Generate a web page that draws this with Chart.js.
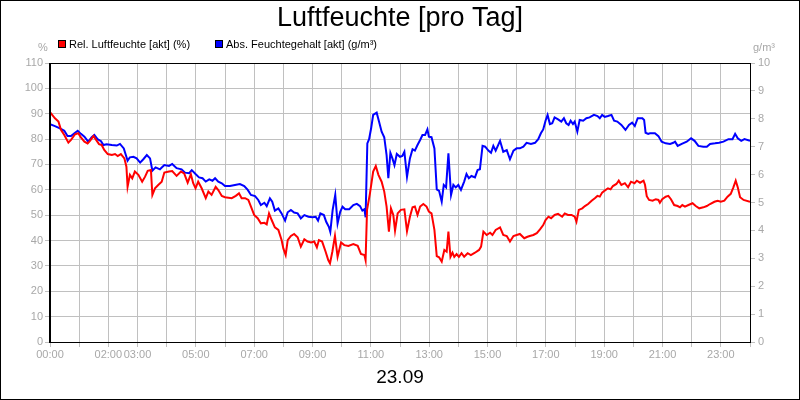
<!DOCTYPE html>
<html>
<head>
<meta charset="utf-8">
<script src="https://cdn.jsdelivr.net/npm/chart.js@4"></script>
<style>
  html, body { margin: 0; padding: 0; background: #fff; }
  #wrap { width: 800px; height: 400px; }
</style>
</head>
<body>
<div id="wrap"><canvas id="chart" width="800" height="400"></canvas></div>
<script>
// Stunden (dezimal) und Werte
const relHours = [
  0.00, 0.17, 0.29, 0.38, 0.49, 0.63, 0.72, 0.86, 0.97, 1.06, 1.18, 1.29, 1.37, 1.49, 1.57, 1.68, 1.77, 1.86, 1.98,
  2.12, 2.23, 2.32, 2.43, 2.55, 2.62, 2.66, 2.74, 2.82, 2.91, 3.03, 3.16, 3.26, 3.35, 3.46, 3.51, 3.60, 3.71, 3.83, 3.92,
  4.08, 4.19, 4.34, 4.49, 4.60, 4.72, 4.83, 4.91, 4.99, 5.08, 5.20, 5.34, 5.43, 5.54, 5.68, 5.77, 5.89, 6.00,
  6.23, 6.37, 6.48, 6.57, 6.69, 6.80, 6.89, 7.00, 7.12, 7.23, 7.35, 7.43, 7.51, 7.60, 7.71, 7.83, 7.94, 8.00, 8.08,
  8.15, 8.26, 8.37, 8.49, 8.60, 8.72, 8.83, 8.95, 9.06, 9.15, 9.22, 9.33, 9.45, 9.54, 9.60, 9.68, 9.77, 9.86, 9.98,
  10.09, 10.23, 10.40, 10.55, 10.66, 10.78, 10.82, 10.87, 10.97, 11.08, 11.17, 11.26, 11.37, 11.46, 11.54, 11.62,
  11.69, 11.77, 11.83, 11.92, 12.03, 12.15, 12.24, 12.34, 12.43, 12.51, 12.60, 12.69, 12.80, 12.91, 12.99, 13.08,
  13.18, 13.26, 13.34, 13.43, 13.52, 13.60, 13.66, 13.73, 13.80, 13.86, 13.94, 14.02, 14.11, 14.20, 14.32, 14.43,
  14.57, 14.71, 14.78, 14.86, 14.97, 15.09, 15.17, 15.28, 15.43, 15.54, 15.66, 15.77, 15.89, 16.00, 16.11, 16.26,
  16.37, 16.45, 16.57, 16.69, 16.80, 16.91, 16.99, 17.09, 17.18, 17.30, 17.42, 17.56, 17.65, 17.76, 17.88, 17.99,
  18.05, 18.13, 18.25, 18.34, 18.45, 18.57, 18.68, 18.77, 18.85, 18.93, 19.02, 19.13, 19.22, 19.30, 19.42, 19.50,
  19.59, 19.71, 19.82, 19.92, 20.04, 20.12, 20.23, 20.35, 20.40, 20.46, 20.54, 20.66, 20.77, 20.86, 20.91, 20.99,
  21.11, 21.20, 21.29, 21.40, 21.52, 21.60, 21.68, 21.77, 21.89, 22.03, 22.14, 22.26, 22.40, 22.52, 22.63, 22.78,
  22.89, 23.00, 23.12, 23.23, 23.34, 23.43, 23.51, 23.58, 23.66, 23.78, 24.00
];
const relHumidity = [
  90.6, 88.2, 86.9, 83.6, 81.6, 78.6, 79.7, 81.9, 82.3, 80.7, 79.0, 78.3, 79.3, 81.2, 79.9, 78.0, 77.7, 75.7, 74.1,
  73.7, 74.1, 73.3, 74.1, 72.4, 69.1, 61.2, 65.9, 64.5, 67.2, 65.9, 63.2, 65.2, 67.5, 67.8, 58.0, 60.6, 61.9, 63.2, 66.8,
  67.2, 67.4, 65.5, 67.2, 66.5, 62.8, 66.1, 62.6, 60.6, 63.2, 60.6, 56.7, 59.3, 58.0, 61.2, 59.9, 57.6, 57.1,
  56.7, 57.6, 58.6, 56.7, 56.7, 56.0, 53.4, 50.1, 48.8, 46.8, 47.0, 46.4, 50.7, 48.1, 45.2, 44.2, 40.2, 36.9, 34.3,
  40.2, 41.8, 42.6, 41.3, 37.6, 40.5, 39.6, 39.2, 39.6, 37.3, 40.2, 39.6, 35.6, 32.3, 31.0, 35.6, 41.8, 33.6, 39.2,
  38.2, 37.9, 38.6, 37.9, 34.7, 34.3, 32.3, 52.1, 58.6, 67.2, 69.4, 65.9, 63.2, 59.3, 53.4, 43.5,
  52.7, 50.1, 43.9, 50.7, 52.1, 52.3, 43.7, 49.4, 53.1, 53.4, 50.1, 53.4, 54.4, 53.4, 51.4, 50.7,
  44.2, 33.9, 33.4, 31.7, 36.3, 35.6, 43.5, 33.6, 35.2, 33.6, 34.7, 33.6, 35.0, 33.6, 35.0, 34.3,
  35.2, 36.3, 37.6, 43.5, 42.2, 43.1, 42.2, 44.2, 45.2, 42.2, 41.8, 39.6, 41.8, 42.2, 42.6, 40.9,
  41.5, 41.8, 42.2, 42.9, 44.4, 46.1, 48.1, 49.4, 48.8, 50.1, 50.5, 49.4, 50.7, 50.1, 50.1, 49.4,
  47.4, 52.1, 52.7, 53.6, 54.4, 55.7, 56.7, 57.6, 57.3, 58.9, 59.7, 60.6, 60.2, 61.5, 62.3, 63.6,
  61.9, 62.6, 61.0, 63.2, 62.6, 63.6, 62.8, 63.6, 62.0, 57.5, 56.0, 55.7, 56.3, 56.0, 54.9, 56.3,
  57.3, 57.6, 56.3, 54.0, 53.6, 53.1, 54.0, 53.4, 54.0, 54.7, 53.6, 52.7, 53.1, 53.6, 54.4, 55.3,
  55.7, 55.3, 55.7, 57.3, 58.4, 61.0, 63.6, 61.0, 57.1, 56.0, 55.3
];

const absHours = [
  0.00, 0.17, 0.34, 0.49, 0.60, 0.72, 0.86, 0.95, 1.06, 1.18, 1.31, 1.43, 1.52, 1.63, 1.75, 1.83, 1.94,
  2.12, 2.29, 2.40, 2.53, 2.60, 2.66, 2.74, 2.86, 2.97, 3.09, 3.20, 3.32, 3.43, 3.51, 3.62, 3.77, 3.92,
  4.08, 4.19, 4.34, 4.51, 4.63, 4.77, 4.86, 4.99, 5.11, 5.23, 5.34, 5.46, 5.57, 5.66, 5.77, 5.89, 6.00,
  6.17, 6.34, 6.51, 6.66, 6.78, 6.89, 7.03, 7.14, 7.23, 7.35, 7.43, 7.54, 7.62, 7.71, 7.83, 7.94, 8.06,
  8.15, 8.26, 8.37, 8.49, 8.60, 8.72, 8.86, 9.00, 9.11, 9.19, 9.27, 9.39, 9.47, 9.56, 9.61, 9.69, 9.78, 9.86, 9.95,
  10.03, 10.12, 10.26, 10.40, 10.52, 10.63, 10.71, 10.78, 10.82, 10.88, 10.94, 11.01, 11.08, 11.20, 11.28, 11.37,
  11.46, 11.54, 11.60, 11.67, 11.74, 11.81, 11.89, 12.00, 12.08, 12.15, 12.24, 12.34, 12.43, 12.51, 12.60, 12.69,
  12.77, 12.86, 12.94, 12.99, 13.08, 13.18, 13.26, 13.34, 13.43, 13.50, 13.58, 13.66, 13.75, 13.83, 13.91, 14.00,
  14.09, 14.20, 14.28, 14.36, 14.45, 14.57, 14.66, 14.74, 14.83, 14.92, 15.03, 15.12, 15.20, 15.28, 15.43, 15.54,
  15.66, 15.77, 15.89, 16.00, 16.11, 16.23, 16.34, 16.49, 16.63, 16.74, 16.83, 16.91, 16.99, 17.06, 17.14, 17.22,
  17.30, 17.42, 17.53, 17.62, 17.70, 17.78, 17.85, 17.93, 17.99, 18.08, 18.16, 18.28, 18.39, 18.50, 18.65, 18.77,
  18.85, 18.93, 19.02, 19.13, 19.25, 19.34, 19.45, 19.59, 19.73, 19.85, 19.96, 20.05, 20.15, 20.31, 20.37, 20.42,
  20.51, 20.57, 20.74, 20.86, 20.97, 21.11, 21.26, 21.37, 21.43, 21.52, 21.66, 21.83, 21.98, 22.10, 22.23, 22.40,
  22.52, 22.63, 22.80, 22.94, 23.09, 23.26, 23.40, 23.49, 23.58, 23.70, 23.81, 24.00
];
const absHumidity = [
  7.81, 7.74, 7.66, 7.57, 7.38, 7.38, 7.50, 7.57, 7.46, 7.36, 7.18, 7.34, 7.42, 7.27, 7.20, 7.06, 7.09,
  7.06, 7.04, 7.10, 6.94, 6.70, 6.50, 6.62, 6.64, 6.58, 6.43, 6.55, 6.70, 6.58, 6.14, 6.26, 6.19, 6.34,
  6.31, 6.38, 6.23, 6.19, 6.07, 6.05, 6.16, 6.02, 5.90, 5.87, 5.75, 5.83, 5.78, 5.87, 5.75, 5.69, 5.59,
  5.59, 5.63, 5.66, 5.59, 5.45, 5.27, 5.23, 5.09, 4.91, 4.99, 4.87, 5.15, 5.03, 4.71, 4.79, 4.61, 4.35,
  4.65, 4.73, 4.64, 4.61, 4.43, 4.55, 4.49, 4.47, 4.49, 4.35, 4.61, 4.55, 4.31, 4.13, 3.95, 4.73, 5.27, 4.25, 4.67,
  4.85, 4.76, 4.76, 4.91, 4.95, 4.87, 4.71, 4.76, 4.47, 7.12, 7.27, 7.66, 8.14, 8.22, 7.90, 7.54,
  7.34, 6.70, 5.87, 6.78, 6.58, 6.34, 6.74, 6.64, 6.67, 6.82, 5.92, 6.58, 6.91, 6.86, 7.06, 7.24,
  7.42, 7.42, 7.62, 7.36, 7.34, 6.94, 5.47, 5.42, 5.03, 5.63, 5.54, 6.76, 5.27, 5.63, 5.54, 5.63,
  5.45, 5.75, 6.02, 5.87, 5.95, 5.90, 6.16, 6.19, 7.03, 7.00, 6.86, 6.78, 7.03, 6.86, 7.21, 6.82,
  6.88, 6.55, 6.86, 6.94, 6.94, 7.00, 7.14, 7.10, 7.14, 7.27, 7.48, 7.62, 7.93, 8.14, 7.81, 7.84,
  8.05, 7.98, 7.90, 8.02, 7.84, 7.78, 7.93, 7.81, 7.90, 7.54, 7.96, 7.93, 8.02, 8.05, 8.14, 8.10,
  8.02, 8.14, 8.07, 8.10, 8.14, 7.93, 7.90, 7.78, 7.60, 7.78, 7.86, 7.74, 8.02, 8.02, 7.96, 7.50,
  7.46, 7.48, 7.48, 7.38, 7.18, 7.12, 7.10, 7.14, 7.18, 7.03, 7.10, 7.18, 7.30, 7.21, 7.03, 7.00,
  7.00, 7.10, 7.12, 7.14, 7.18, 7.27, 7.27, 7.46, 7.30, 7.21, 7.27, 7.21
];

// Beschriftete Stunden auf der X-Achse
const labeledHours = [0, 2, 3, 5, 7, 9, 11, 13, 15, 17, 19, 21, 23];
const titleText = 'Luftfeuchte [pro Tag]';
const dateText = '23.09';
const seriesNames = ['Rel. Luftfeuchte [akt] (%)', 'Abs. Feuchtegehalt [akt] (g/m³)'];
const seriesColors = ['#ff0000', '#0000ff'];

const FONT = '"Liberation Sans", Arial, sans-serif';
const GRID = '#c0c0c0';
const TICK_TEXT = '#a8a8a8';

// Titel, Legende, Einheiten, Datum und Rahmen selbst zeichnen
const decorPlugin = {
  id: 'decor',
  beforeDraw(chart) {
    const ctx = chart.ctx;
    ctx.save();
    ctx.fillStyle = '#fff';
    ctx.fillRect(0, 0, chart.width, chart.height);
    ctx.restore();
  },
  afterDraw(chart) {
    const ctx = chart.ctx;
    const a = chart.chartArea;
    ctx.save();

    // Rahmen Plotbereich
    ctx.strokeStyle = '#000';
    ctx.lineWidth = 1;
    ctx.strokeRect(a.left + 0.5, a.top + 0.5, a.right - a.left, a.bottom - a.top);
    ctx.lineWidth = 2;
    ctx.beginPath();
    ctx.moveTo(a.left, a.top);
    ctx.lineTo(a.left, a.bottom + 1);
    ctx.stroke();

    // Titel
    ctx.fillStyle = '#000';
    ctx.font = '27px ' + FONT;
    ctx.textAlign = 'center';
    ctx.textBaseline = 'middle';
    ctx.fillText(titleText, 400, 19);

    // Datum
    ctx.font = '19px ' + FONT;
    ctx.fillText(dateText, 400, 378);

    // Legende
    ctx.font = '11px ' + FONT;
    ctx.textAlign = 'left';
    const legendX = [58, 215];
    seriesNames.forEach((name, i) => {
      const x = legendX[i];
      ctx.fillStyle = seriesColors[i];
      ctx.fillRect(x, 40, 8, 8);
      ctx.strokeStyle = '#000';
      ctx.lineWidth = 1;
      ctx.strokeRect(x + 0.5, 40.5, 7, 7);
      ctx.fillStyle = '#000';
      ctx.fillText(name, x + 11, 44.5);
    });

    // Einheiten
    ctx.fillStyle = TICK_TEXT;
    ctx.textAlign = 'center';
    ctx.fillText('%', 43, 48);
    ctx.textAlign = 'left';
    ctx.fillText('g/m³', 753, 48);

    // Aussenrahmen
    ctx.strokeStyle = '#000';
    ctx.lineWidth = 2;
    ctx.strokeRect(0, 0, chart.width, chart.height);
    ctx.restore();
  }
};

function toPoints(hours, values) {
  return hours.map((h, i) => ({ x: h, y: values[i] }));
}

const ctx = document.getElementById('chart');
new Chart(ctx, {
  type: 'line',
  data: {
    datasets: [
      {
        label: seriesNames[0],
        data: toPoints(relHours, relHumidity),
        borderColor: seriesColors[0],
        borderWidth: 2,
        pointRadius: 0,
        tension: 0,
        yAxisID: 'y'
      },
      {
        label: seriesNames[1],
        data: toPoints(absHours, absHumidity),
        borderColor: seriesColors[1],
        borderWidth: 2,
        pointRadius: 0,
        tension: 0,
        yAxisID: 'y2'
      }
    ]
  },
  options: {
    responsive: false,
    animation: false,
    devicePixelRatio: 1,
    layout: { padding: { top: 63, left: 0, right: 0, bottom: 0 } },
    plugins: {
      legend: { display: false },
      title: { display: false },
      tooltip: { enabled: false }
    },
    scales: {
      x: {
        type: 'linear',
        min: 0,
        max: 24,
        afterFit: s => { s.height = 58; },
        border: { display: false },
        grid: { color: GRID, tickLength: 5, drawTicks: true },
        ticks: {
          stepSize: 1,
          autoSkip: false,
          maxRotation: 0,
          padding: 1,
          color: TICK_TEXT,
          font: { family: FONT, size: 11 },
          callback: v => labeledHours.includes(v) ? String(v).padStart(2, '0') + ':00' : ''
        }
      },
      y: {
        position: 'left',
        min: 0,
        max: 110,
        afterFit: s => { s.width = 50; },
        border: { display: false },
        grid: { color: GRID, tickLength: 5 },
        ticks: {
          stepSize: 10,
          padding: 2,
          color: TICK_TEXT,
          font: { family: FONT, size: 11 }
        }
      },
      y2: {
        position: 'right',
        min: 0,
        max: 10,
        afterFit: s => { s.width = 50; },
        border: { display: false },
        grid: { drawOnChartArea: false, color: GRID, tickLength: 5 },
        ticks: {
          stepSize: 1,
          padding: 3,
          color: TICK_TEXT,
          font: { family: FONT, size: 11 }
        }
      }
    }
  },
  plugins: [decorPlugin]
});
</script>
</body>
</html>
